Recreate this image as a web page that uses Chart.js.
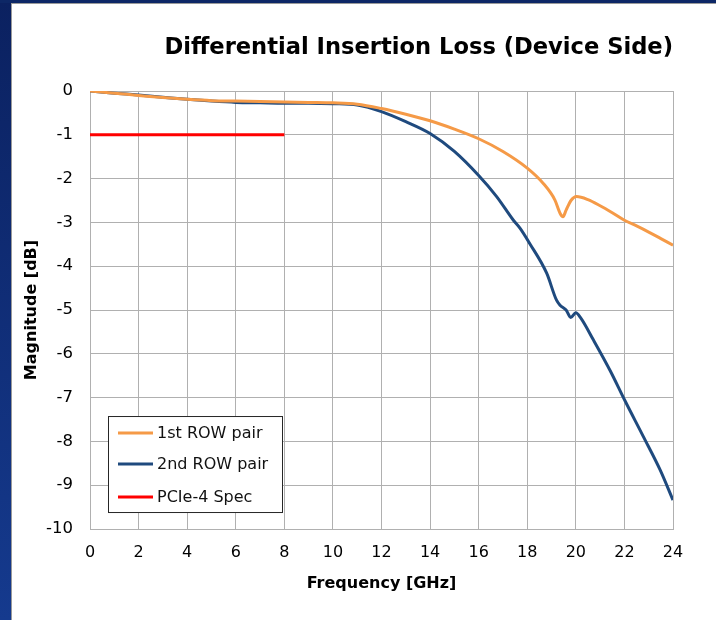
<!DOCTYPE html>
<html>
<head>
<meta charset="utf-8">
<script src="https://cdn.jsdelivr.net/npm/chart.js@4"></script>
<style>
  html, body { margin: 0; padding: 0; background: #ffffff; width: 716px; height: 620px; overflow: hidden; }
  #leftBand { position: absolute; left: 0; top: 0; width: 11px; height: 620px; background: linear-gradient(#0b2160, #153a8e); }
  #topBand { position: absolute; left: 0; top: 0; width: 716px; height: 3px; background: #0d2766; }
  #leftEdge { position: absolute; left: 11px; top: 3px; width: 1px; height: 617px; background: #9a9a9a; }
  #topEdge { position: absolute; left: 11px; top: 3px; width: 705px; height: 1px; background: #9a9a9a; }
  #wrap { position: absolute; left: 12px; top: 4px; width: 704px; height: 616px; }
</style>
</head>
<body>
<div id="leftBand"></div><div id="topBand"></div><div id="leftEdge"></div><div id="topEdge"></div>
<div id="wrap"><canvas id="c" width="704" height="616"></canvas></div>
<script>
// ---- data ----
const titleText = "Differential Insertion Loss (Device Side)";
const xTitle = "Frequency [GHz]";
const yTitle = "Magnitude [dB]";
const seriesNames = ["1st ROW pair", "2nd ROW pair", "PCIe-4 Spec"];

const row1Freq = [0,1,2,3,4,5,6,7,8,9,10,11,12,13,14,15,16,17,18,18.66,19.14,19.35,19.47,19.6,19.8,20.03,20.5,21,21.5,22,22.5,23,23.5,24];
const row1Loss = [0,-0.05,-0.1,-0.15,-0.19,-0.22,-0.23,-0.24,-0.25,-0.26,-0.27,-0.3,-0.4,-0.53,-0.68,-0.87,-1.09,-1.38,-1.76,-2.11,-2.49,-2.79,-2.87,-2.72,-2.5,-2.41,-2.48,-2.62,-2.78,-2.95,-3.08,-3.22,-3.37,-3.52];

const row2Freq = [0,1,2,3,4,5,6,7,8,9,10,11,12,13,14,15,16,16.74,17.43,17.7,18.1,18.8,19.2,19.35,19.6,19.79,20.0,20.2,20.72,21.41,22.04,22.78,23.47,24];
const row2Loss = [0,-0.05,-0.09,-0.14,-0.19,-0.23,-0.26,-0.27,-0.28,-0.28,-0.29,-0.32,-0.47,-0.7,-0.97,-1.38,-1.93,-2.41,-2.95,-3.13,-3.48,-4.16,-4.77,-4.89,-5.0,-5.17,-5.06,-5.18,-5.68,-6.38,-7.09,-7.89,-8.65,-9.34];

const specFreq = [0, 8];
const specLoss = [-1, -1];

const xTicks = [0,2,4,6,8,10,12,14,16,18,20,22,24];
const yTicks = [0,-1,-2,-3,-4,-5,-6,-7,-8,-9,-10];

const colors = ["#f59a47", "#1f4a7e", "#ff0000"];

function pts(xs, ys) { return xs.map((x, i) => ({ x: x, y: ys[i] })); }

const legendBox = {
  id: 'legendBox',
  afterDatasetsDraw(chart) {
    const ctx = chart.ctx, a = chart.chartArea;
    const bx = a.left + 18.5, by = a.top + 325.5, bw = 174, bh = 96;
    ctx.save();
    ctx.fillStyle = '#ffffff';
    ctx.fillRect(bx, by, bw, bh);
    ctx.strokeStyle = '#262626';
    ctx.lineWidth = 1;
    ctx.strokeRect(bx, by, bw, bh);
    const rows = [16.5, 47.5, 80.5];
    chart.data.datasets.forEach((ds, i) => {
      const y = by + rows[i];
      ctx.strokeStyle = ds.borderColor;
      ctx.lineWidth = 3;
      ctx.beginPath();
      ctx.moveTo(bx + 9.5, y);
      ctx.lineTo(bx + 44.5, y);
      ctx.stroke();
      ctx.fillStyle = '#111111';
      ctx.font = '16px "DejaVu Sans"';
      ctx.textBaseline = 'middle';
      ctx.textAlign = 'left';
      ctx.fillText(ds.label, bx + 48.5, y + 1);
    });
    ctx.restore();
  }
};

new Chart(document.getElementById('c'), {
  type: 'line',
  data: {
    datasets: [
      { label: seriesNames[0], data: pts(row1Freq, row1Loss), borderColor: colors[0], backgroundColor: colors[0], borderWidth: 3, pointRadius: 0, cubicInterpolationMode: 'monotone', fill: false },
      { label: seriesNames[1], data: pts(row2Freq, row2Loss), borderColor: colors[1], backgroundColor: colors[1], borderWidth: 3, pointRadius: 0, cubicInterpolationMode: 'monotone', fill: false },
      { label: seriesNames[2], data: pts(specFreq, specLoss), borderColor: colors[2], backgroundColor: colors[2], borderWidth: 3, pointRadius: 0, fill: false }
    ]
  },
  options: {
    responsive: false,
    animation: false,
    layout: { padding: { left: 0, right: 43, top: 0, bottom: 0 } },
    plugins: {
      legend: { display: false },
      tooltip: { enabled: false },
      title: {
        display: true, text: titleText, align: 'end', fullSize: false,
        color: '#000000',
        font: { family: '"DejaVu Sans"', size: 22.6, weight: 'bold', lineHeight: 1.2 },
        padding: { top: 30.5, bottom: 29.4 }
      }
    },
    scales: {
      x: {
        type: 'linear', min: 0, max: 24,
        afterBuildTicks: s => { s.ticks = xTicks.map(v => ({ value: v })); },
        afterFit: s => { s.height = 91; },
        grid: { color: '#b0b0b0', lineWidth: 1, drawTicks: false },
        border: { color: '#b0b0b0', width: 1 },
        ticks: { color: '#000000', padding: 14, maxRotation: 0, font: { family: '"DejaVu Sans"', size: 16 } },
        title: { display: true, text: xTitle, color: '#000000', padding: { top: 27, bottom: 27 }, font: { family: '"DejaVu Sans"', size: 16, weight: 'bold', lineHeight: 1.2 } }
      },
      y: {
        type: 'linear', min: -10, max: 0,
        afterBuildTicks: s => { s.ticks = yTicks.map(v => ({ value: v })); },
        afterFit: s => { s.width = 78; },
        grid: { color: '#b0b0b0', lineWidth: 1, drawTicks: false },
        border: { color: '#b0b0b0', width: 1 },
        ticks: { color: '#000000', padding: 17, font: { family: '"DejaVu Sans"', size: 16.5 } },
        title: { display: true, text: yTitle, color: '#000000', padding: { top: 10, bottom: 10 }, font: { family: '"DejaVu Sans"', size: 16, weight: 'bold', lineHeight: 1.2 } }
      }
    }
  },
  plugins: [legendBox]
});
</script>
</body>
</html>
